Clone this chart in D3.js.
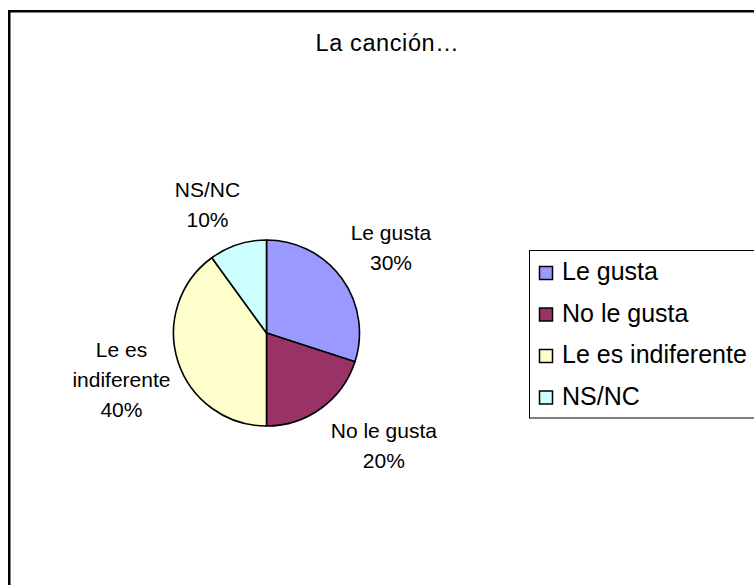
<!DOCTYPE html>
<html>
<head>
<meta charset="utf-8">
<script src="https://cdn.jsdelivr.net/npm/d3@7"></script>
<style>
  html, body { margin: 0; padding: 0; background: #fff; }
  svg { display: block; }
  text { font-family: "Liberation Sans", Arial, sans-serif; fill: #000; }
</style>
</head>
<body>
<svg id="chart" width="754" height="585"></svg>
<script>
// Survey answers: how people feel about the song
const categories = ["Le gusta", "No le gusta", "Le es indiferente", "NS/NC"];
const values = [30, 20, 40, 10];
const labelLines = [["Le gusta"], ["No le gusta"], ["Le es", "indiferente"], ["NS/NC"]];
const colors = ["#9999FF", "#993366", "#FFFFCC", "#CCFFFF"];
const title = "La canción…";

// Hand-placed data label offsets (dragged labels), in px
const labelNudge = [[1.5, 4], [28, -10.5], [-0.5, 0], [-12, 16.5]];

const svg = d3.select("#chart");
const W = 754, H = 585;

// Chart area frame (continues past the visible page edge)
svg.append("rect")
  .attr("x", 9.25).attr("y", 11.25)
  .attr("width", W + 20).attr("height", H + 20)
  .attr("fill", "#fff")
  .attr("stroke", "#000").attr("stroke-width", 2.5);

// Title
svg.append("text")
  .attr("x", 387.5).attr("y", 51)
  .attr("text-anchor", "middle")
  .attr("font-size", 23.5)
  .attr("letter-spacing", 0.6)
  .text(title);

// Pie
const cx = 266.5, cy = 333, r = 93;
const total = d3.sum(values);
const pie = d3.pie().sort(null).value(d => d);
const arcs = pie(values);
const arc = d3.arc().innerRadius(0).outerRadius(r);

const g = svg.append("g").attr("transform", `translate(${cx},${cy})`);
g.selectAll("path.slice")
  .data(arcs)
  .join("path")
  .attr("class", "slice")
  .attr("d", arc)
  .attr("fill", (d, i) => colors[i])
  .attr("stroke", "#000")
  .attr("stroke-width", 1.6)
  .attr("stroke-linejoin", "round");

// Data labels: category name and percentage outside each slice
const labelR = 152;
const lineH = 30;
const capH = 15;
const pct = d3.format(".0%");
arcs.forEach((d, i) => {
  const mid = (d.startAngle + d.endAngle) / 2;
  const lx = Math.sin(mid) * labelR + labelNudge[i][0];
  const ly = -Math.cos(mid) * labelR + labelNudge[i][1];
  const lines = labelLines[i].concat([pct(d.data / total)]);
  const blockH = capH + lineH * (lines.length - 1);
  const firstBase = ly - blockH / 2 + capH;
  const t = g.append("text")
    .attr("text-anchor", "middle")
    .attr("font-size", 21);
  lines.forEach((s, k) => {
    t.append("tspan")
      .attr("x", lx)
      .attr("y", firstBase + k * lineH)
      .text(s);
  });
});

// Legend
const legend = svg.append("g");
legend.append("rect")
  .attr("x", 529.5).attr("y", 250.5)
  .attr("width", 260).attr("height", 167.5)
  .attr("fill", "#fff")
  .attr("stroke", "#000").attr("stroke-width", 1);

const rowY = d3.scalePoint().domain(categories).range([280, 404.5]);
categories.forEach((c, i) => {
  const base = rowY(c);
  legend.append("rect")
    .attr("x", 539.5).attr("y", base - 13.5)
    .attr("width", 13).attr("height", 13)
    .attr("fill", colors[i])
    .attr("stroke", "#000").attr("stroke-width", 1.5);
  legend.append("text")
    .attr("x", 562).attr("y", base)
    .attr("font-size", 25)
    .text(c);
});
</script>
</body>
</html>
